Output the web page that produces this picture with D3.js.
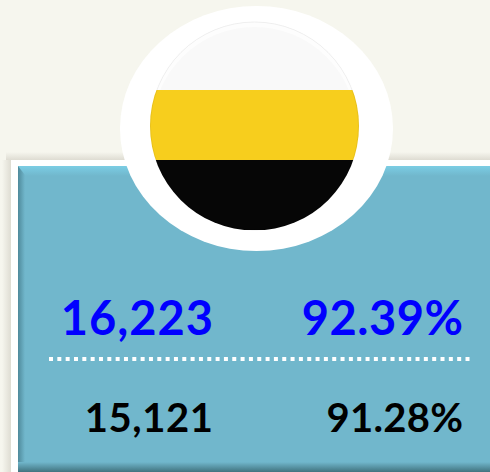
<!DOCTYPE html>
<html>
<head>
<meta charset="utf-8">
<script src="https://cdn.jsdelivr.net/npm/d3@7"></script>
<style>
html, body { margin: 0; padding: 0; background: #f6f6ee; overflow: hidden; }
text { font-family: Lato, sans-serif; font-weight: bold; }
</style>
</head>
<body>
<div id="chart"></div>
<script>
var stripes = ["top", "middle", "bottom"];
var stripeColors = ["#f9f9f9", "#f7ce1d", "#060606"];
var columns = ["count", "share"];
var rowNames = ["primary", "secondary"];
var countValues = [16223, 15121];
var shareValues = [92.39, 91.28];
var rowColors = ["#0000ff", "#000000"];

function init() {
  var w = 490;
  var h = 472;

  var svg = d3.select("#chart")
    .append("svg")
    .attr("width", w)
    .attr("height", h)
    .style("display", "block");

  var defs = svg.append("defs");

  var shadow = defs.append("linearGradient").attr("id", "shadowTop").attr("x1", 0).attr("x2", 0).attr("y1", 0).attr("y2", 1);
  shadow.append("stop").attr("offset", "0%").attr("stop-color", "#f6f6ee");
  shadow.append("stop").attr("offset", "100%").attr("stop-color", "#dedcd2");

  var shadowLeft = defs.append("linearGradient").attr("id", "shadowLeft");
  shadowLeft.append("stop").attr("offset", "0%").attr("stop-color", "#f6f6ee");
  shadowLeft.append("stop").attr("offset", "100%").attr("stop-color", "#dedcd2");

  var bottomBevel = defs.append("linearGradient").attr("id", "bottomBevel").attr("x1", 0).attr("x2", 0).attr("y1", 0).attr("y2", 1);
  bottomBevel.append("stop").attr("offset", "0%").attr("stop-color", "#71b7cc");
  bottomBevel.append("stop").attr("offset", "100%").attr("stop-color", "#41737f");

  var topBevel = defs.append("linearGradient").attr("id", "topBevel").attr("x1", 0).attr("x2", 0).attr("y1", 0).attr("y2", 1);
  topBevel.append("stop").attr("offset", "0%").attr("stop-color", "#7bcde4");
  topBevel.append("stop").attr("offset", "100%").attr("stop-color", "#71b7cc");

  var leftBevel = defs.append("linearGradient").attr("id", "leftBevel");
  leftBevel.append("stop").attr("offset", "0%").attr("stop-color", "#4f8a9b");
  leftBevel.append("stop").attr("offset", "100%").attr("stop-color", "#71b7cc");

  defs.append("clipPath").attr("id", "flagClip")
    .append("circle")
    .attr("cx", 254.5).attr("cy", 126).attr("r", 104.5);

  defs.append("clipPath").attr("id", "topClip")
    .append("circle")
    .attr("cx", 254.5).attr("cy", 129).attr("r", 102);

  // panel shadow, white frame, body
  svg.append("rect").attr("x", 6).attr("y", 152).attr("width", 484).attr("height", 8).attr("fill", "url(#shadowTop)");
  svg.append("rect").attr("x", 2).attr("y", 160).attr("width", 9).attr("height", 312).attr("fill", "url(#shadowLeft)");
  svg.append("rect").attr("x", 11).attr("y", 160).attr("width", 479).attr("height", 312).attr("fill", "#ffffff");
  svg.append("rect").attr("x", 18).attr("y", 166).attr("width", 472).attr("height", 306).attr("fill", "#71b7cc");

  // bevels
  svg.append("rect").attr("x", 18).attr("y", 166).attr("width", 472).attr("height", 10).attr("fill", "url(#topBevel)");
  svg.append("polygon").attr("points", "18,166 25,175 25,465 18,472").attr("fill", "url(#leftBevel)");
  svg.append("rect").attr("x", 18).attr("y", 462).attr("width", 472).attr("height", 10).attr("fill", "url(#bottomBevel)");

  // flag badge
  svg.append("ellipse")
    .attr("cx", 256.5).attr("cy", 128.5).attr("rx", 136.5).attr("ry", 122.5)
    .attr("fill", "#ffffff");

  svg.append("circle")
    .attr("cx", 254.5).attr("cy", 126).attr("r", 104.5)
    .attr("fill", "#fdfdfd");

  var stripeY = d3.scaleBand().domain(stripes).range([20, 230]);

  svg.append("g")
    .attr("clip-path", "url(#flagClip)")
    .selectAll("rect")
    .data(stripes)
    .enter()
    .append("rect")
    .attr("clip-path", function(d, i) { return i === 0 ? "url(#topClip)" : null; })
    .attr("x", 150)
    .attr("width", 210)
    .attr("y", function(d) { return stripeY(d); })
    .attr("height", stripeY.bandwidth())
    .attr("fill", function(d, i) { return stripeColors[i]; });

  svg.append("circle")
    .attr("cx", 254.5).attr("cy", 126).attr("r", 104)
    .attr("fill", "none")
    .attr("stroke", "#000000")
    .attr("stroke-opacity", 0.06);

  // table
  var x = d3.scaleOrdinal().domain(columns).range([213, 463]);
  var y = d3.scaleOrdinal().domain(rowNames).range([335, 432]);
  var sizes = [47, 40];
  var countSpacing = [1, 0.6];
  var shareSpacing = [0.5, 0.3];
  var countFormat = d3.format(",");
  var shareFormat = function(v) { return d3.format(".2f")(v) + "%"; };

  rowNames.forEach(function(row, i) {
    svg.append("text")
      .attr("x", x("count") + countSpacing[i])
      .attr("y", y(row))
      .attr("text-anchor", "end")
      .attr("font-size", sizes[i])
      .attr("letter-spacing", countSpacing[i])
      .attr("fill", rowColors[i])
      .text(countFormat(countValues[i]));

    svg.append("text")
      .attr("x", x("share") + shareSpacing[i])
      .attr("y", y(row))
      .attr("text-anchor", "end")
      .attr("font-size", sizes[i])
      .attr("letter-spacing", shareSpacing[i])
      .attr("fill", rowColors[i])
      .text(shareFormat(shareValues[i]));
  });

  svg.append("line")
    .attr("x1", 49).attr("x2", 470)
    .attr("y1", 359).attr("y2", 359)
    .attr("stroke", "#ffffff")
    .attr("stroke-width", 4)
    .attr("stroke-dasharray", "4 4.33");
}

window.onload = init;
</script>
</body>
</html>
